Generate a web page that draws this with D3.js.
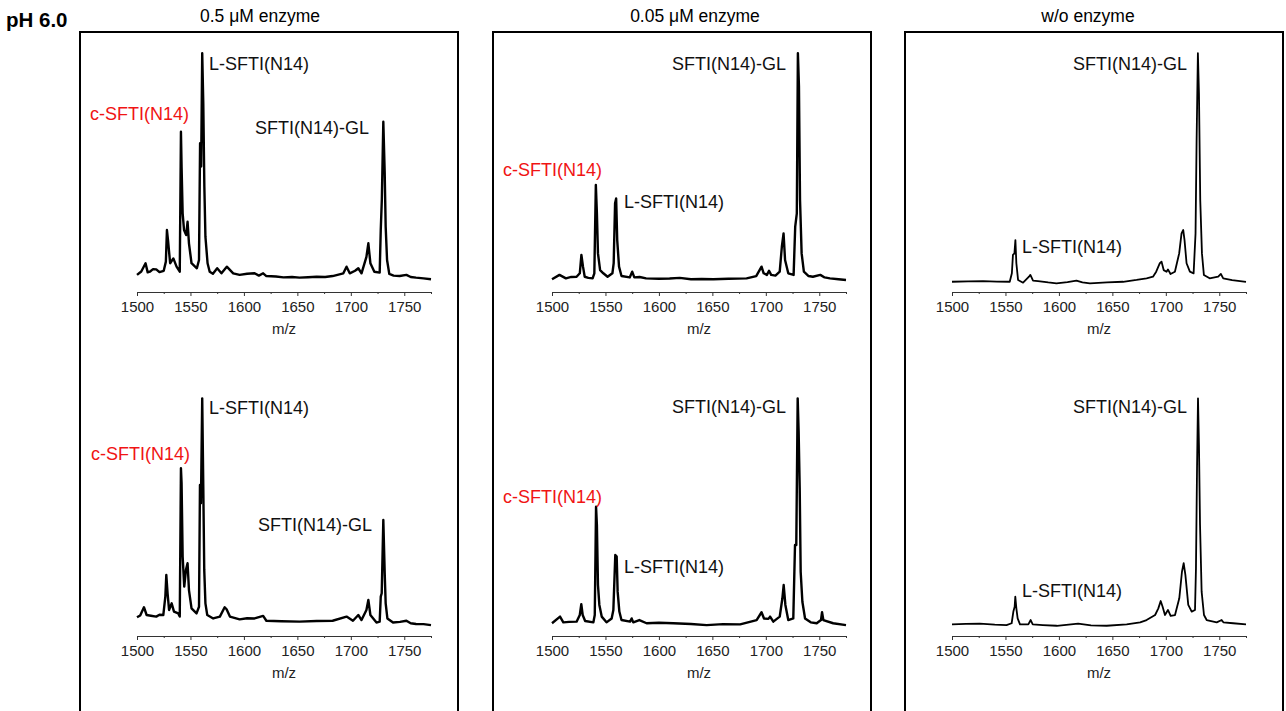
<!DOCTYPE html>
<html>
<head>
<meta charset="utf-8">
<script src="https://cdn.jsdelivr.net/npm/d3@7"></script>
<style>
body { margin: 0; background: #fff; }
svg { display: block; }
text { font-family: "Liberation Sans", Arial, Helvetica, sans-serif; }
</style>
</head>
<body>
<svg id="fig" width="1286" height="711"></svg>
<script>
// axis ticks (m/z)
const majorTicks = [1500, 1550, 1600, 1650, 1700, 1750];
const minorTicks = [1525, 1575, 1625, 1675, 1725, 1775];
const conditions = ["0.5 μM enzyme", "0.05 μM enzyme", "w/o enzyme"];

// spectra: [m/z, relative intensity]
// top row
const spec_a1 = [[1500,3.1],[1504,4.6],[1508,8.2],[1510,4.2],[1512,4.5],[1515,5.6],[1518,5.5],[1521,4.3],[1525,4.9],[1527,8.9],[1528,22.7],[1529,18.3],[1531,8.2],[1534,10.3],[1537,6.7],[1540,4.5],[1541.1,65.6],[1541.7,50.4],[1542.7,30],[1544,22.7],[1546,20.5],[1547.3,26.3],[1548.6,16.9],[1551,8.2],[1556,6],[1558,9.6],[1559,60.6],[1560,50.4],[1561,99.9],[1562,78],[1563,41.6],[1564,19.8],[1566,8.2],[1568,4.5],[1571,3.6],[1575,6],[1579,3.8],[1584,6.7],[1590,3.8],[1596,3.1],[1603,3.6],[1610,3.8],[1614,2.8],[1618,3.8],[1621,2.6],[1630,2.4],[1637,2],[1645,2.2],[1652,1.9],[1660,2.1],[1668,2.3],[1676,2.2],[1683,2.6],[1693,3.8],[1696,6.7],[1699,3.8],[1704,4.9],[1707,6],[1710,3.8],[1714.6,11],[1716.4,16.9],[1718.3,8.2],[1722,4.5],[1727,4.1],[1728,22.7],[1729,35.8],[1730.4,70],[1731.7,47.5],[1732.6,24.2],[1733.9,9.6],[1736,3.5],[1740,2.8],[1745.7,2.6],[1752,3.1],[1756,2.2],[1761,1.9],[1768,1.6],[1775,1.2]];
const spec_a2 = [[1500,1.2],[1507,3.1],[1513,1.6],[1518,2.2],[1523,2.3],[1526,3.8],[1527.5,11.8],[1529,6.7],[1530.6,2.3],[1534,1.8],[1538,1.6],[1539.6,3.8],[1541,42.4],[1542,30],[1543,12.5],[1545,5.2],[1548,3.8],[1552,2.3],[1556.5,3.8],[1557.7,8.2],[1559,34.4],[1560,36.5],[1561,18.3],[1562.7,6.7],[1565,2.6],[1572.7,2],[1575,4.5],[1577,2],[1582,2.2],[1588,1.6],[1600,1.4],[1610,1.5],[1619.5,1.8],[1630,1.2],[1640,1.3],[1651,1.2],[1665,1.4],[1682,1.6],[1691,2.6],[1696,6.7],[1698,3.8],[1701,3.1],[1703,4.9],[1705,3.1],[1709,2.8],[1713,4.5],[1715,15.4],[1716.6,21.2],[1718,9.6],[1721,3.8],[1726,3.1],[1727.5,24.2],[1729,30],[1730,99.9],[1731,85.3],[1732,35.8],[1733.5,12.5],[1735.6,4.5],[1740,2.6],[1744,2.3],[1751,3.1],[1755,2],[1760,1.6],[1768,1.2],[1775,0.9]];
const spec_a3 = [[1500,0.1],[1515,0.3],[1529,0.4],[1542,0.2],[1554,0.1],[1556,3.8],[1557,11.8],[1558.4,12.5],[1559.3,18.3],[1560.2,8.2],[1561.8,0.9],[1566.5,-0.3],[1572,2.3],[1573.3,3.1],[1575.8,0.6],[1580.5,0.4],[1590,-0.2],[1597.7,-0.6],[1608,-0.1],[1616.4,0.6],[1622,-0.2],[1629,-0.6],[1645,-0.2],[1660,0.1],[1672.6,0.9],[1682,1.6],[1688,2.3],[1691,4.5],[1694.4,8.2],[1696,8.9],[1698,5.2],[1700.7,4.5],[1702,5.5],[1704.4,3.5],[1708.5,4.5],[1712.5,12.5],[1714.7,21.2],[1716.3,22.7],[1717.5,18.3],[1719.4,8.2],[1722.5,4.5],[1726,3.8],[1727.8,21.2],[1728.8,62],[1730,99.9],[1731,82.4],[1732.2,35.8],[1733.8,12.5],[1735.6,3.1],[1741,1.6],[1749,2.3],[1751.5,3.5],[1753.7,1.6],[1762,0.8],[1775,0.1]];
// bottom row
const spec_b1 = [[1500,3.8],[1503,4.6],[1506.5,8.2],[1509,4.8],[1513,4.5],[1518,4.1],[1521,4.9],[1524.6,4.8],[1526.5,12.8],[1527.4,22.3],[1528.6,14.3],[1530,7],[1532.4,9.9],[1534.6,6.3],[1538.6,5.5],[1540,4.1],[1541.1,68.9],[1541.7,62.3],[1542.7,30.3],[1544.2,17.2],[1545.8,24.5],[1547.3,27.4],[1548.6,15.7],[1551,7.7],[1555.7,5.5],[1558,8.4],[1558.9,61.6],[1559.8,53.6],[1561,99.4],[1562,61],[1562.9,24.5],[1564,9.9],[1565.7,4.8],[1571.3,3.3],[1577.5,4.1],[1582,8.2],[1583.8,7.3],[1586.9,4.1],[1596,2.9],[1603,3.4],[1610,3.3],[1618,4.4],[1621,2.3],[1635,2.1],[1652,1.9],[1668,2.2],[1683,2.3],[1696,4.1],[1702,2.3],[1707,4.8],[1710,2.6],[1714.6,7],[1716.4,11.4],[1718.3,4.8],[1724,1.5],[1727,1.9],[1728,12.8],[1728.9,14.3],[1730.4,46.3],[1731.7,23],[1732.6,9.9],[1734.2,3.3],[1739.5,1.5],[1746,1.8],[1752,2.3],[1756,1.2],[1761,0.9],[1768,0.8],[1775,0.4]];
const spec_b2 = [[1500,1.2],[1507.5,4.1],[1510.6,1.6],[1516,1.8],[1523,1.9],[1526,4.8],[1527.4,9.5],[1528.7,4.8],[1531,2.2],[1538.7,1.6],[1540,4.8],[1541.2,52.1],[1542,44.1],[1543,17.9],[1544.3,9.2],[1546.5,4.1],[1551,1.6],[1555.8,3.3],[1557.4,7],[1559.2,31],[1560.5,30.3],[1561.4,15],[1563,6.3],[1565,2.6],[1573,1.9],[1574.5,3.3],[1576,1.6],[1581.7,2.6],[1588.5,1.2],[1600,1.4],[1613.5,1.2],[1630,0.9],[1644.7,0.4],[1660,0.8],[1676,0.7],[1691.4,2.6],[1696,6],[1698.3,3.3],[1702.4,3.1],[1704,4.1],[1707,1.9],[1713,4.1],[1715.5,12.1],[1716.7,17.9],[1718.3,9.2],[1721,2.6],[1725.7,3.3],[1727.3,35.4],[1728.5,35.4],[1729.8,99.4],[1730.7,84.9],[1731.7,60.1],[1732.6,23.7],[1734.2,10.6],[1736.7,3.3],[1742,1.6],[1747.6,1.2],[1751.6,2.6],[1752.6,6],[1753.8,2.6],[1763,1.2],[1775,0.4]];
const spec_b3 = [[1500,0.7],[1513,0.9],[1526,1],[1540,0.6],[1551,0.4],[1555.8,1.2],[1557.4,6.3],[1558.6,8.4],[1559.2,12.8],[1560.2,7.7],[1561.4,3.3],[1563.6,0.7],[1571.4,0.7],[1573.6,2.6],[1575.5,0.7],[1585,0.4],[1598,0.1],[1618,1],[1630,0.3],[1644.7,0.1],[1663.4,0.7],[1676,1.6],[1682,2.6],[1690,4.8],[1693,7.7],[1695.2,10.9],[1697,8.4],[1699.2,4.8],[1702,7],[1704.5,4.4],[1708.6,4.8],[1712.6,12.1],[1715.1,23.7],[1716.7,27.4],[1718.3,22.3],[1721,9.2],[1724.2,6.3],[1727.3,7],[1728.2,25.2],[1729.2,68.9],[1730.1,99.4],[1731,79],[1732,44.1],[1733.5,15],[1735.7,4.8],[1738.2,2.6],[1747.6,1.6],[1752.2,2.6],[1753.8,1.6],[1763,1.2],[1775,0.7]];

// peak annotations: [label, m/z of text start, intensity of text baseline]
const notes_a1 = [["L-SFTI(N14)", 1567.3, 92.6], ["c-SFTI(N14)", 1456, 70.7], ["SFTI(N14)-GL", 1610.4, 64.6]];
const notes_a2 = [["SFTI(N14)-GL", 1612.2, 92.6], ["c-SFTI(N14)", 1454.2, 46.3], ["L-SFTI(N14)", 1567.3, 32.3]];
const notes_a3 = [["SFTI(N14)-GL", 1613.2, 92.6], ["L-SFTI(N14)", 1565.5, 12.7]];
const notes_b1 = [["L-SFTI(N14)", 1567.3, 92.6], ["c-SFTI(N14)", 1457, 72.5], ["SFTI(N14)-GL", 1613.2, 41.5]];
const notes_b2 = [["SFTI(N14)-GL", 1612.2, 93], ["c-SFTI(N14)", 1454.2, 53.7], ["L-SFTI(N14)", 1567.3, 23.1]];
const notes_b3 = [["SFTI(N14)-GL", 1613.2, 93], ["L-SFTI(N14)", 1565.5, 12.7]];

const spectra = [[spec_a1, spec_a2, spec_a3], [spec_b1, spec_b2, spec_b3]];
const notes = [[notes_a1, notes_a2, notes_a3], [notes_b1, notes_b2, notes_b3]];

// layout
const colX = [137, 552, 952];
const plotW = 294;
const rowAxis = [292, 636];
const boxX = [80, 493, 905];
const boxW = 378;
const titleX = [260, 695, 1088];

const svg = d3.select("#fig");

svg.append("text")
	.attr("x", 6).attr("y", 27)
	.attr("font-size", 20.5).attr("font-weight", "bold")
	.text("pH 6.0");

conditions.forEach((c, i) => {
	svg.append("text")
		.attr("x", titleX[i]).attr("y", 22)
		.attr("text-anchor", "middle")
		.attr("font-size", 17.5)
		.text(c);
	svg.append("rect")
		.attr("x", boxX[i]).attr("y", 32)
		.attr("width", boxW).attr("height", 720)
		.attr("fill", "none").attr("stroke", "#000").attr("stroke-width", 2);
});

for (let r = 0; r < 2; r++) {
	for (let c = 0; c < 3; c++) {
		const x = d3.scaleLinear().domain([1500, 1775]).range([colX[c], colX[c] + plotW]);
		const y = d3.scaleLinear().domain([0, 100]).range([rowAxis[r] - 10, rowAxis[r] - 239]);
		const g = svg.append("g");

		const ax = g.append("g")
			.attr("transform", `translate(0,${rowAxis[r]})`)
			.call(d3.axisBottom(x).tickValues(majorTicks).tickSize(4).tickSizeOuter(0)
				.tickPadding(5).tickFormat(d3.format("d")));
		ax.selectAll("text").attr("font-size", 15).attr("fill", "#222")
			.attr("font-family", "Liberation Sans, Arial, sans-serif");
		ax.selectAll("path, line").attr("stroke", "#333");

		const mn = g.append("g")
			.attr("transform", `translate(0,${rowAxis[r]})`)
			.call(d3.axisBottom(x).tickValues(minorTicks).tickSize(2).tickFormat(""));
		mn.select(".domain").remove();
		mn.selectAll("line").attr("stroke", "#333");

		g.append("text")
			.attr("x", (x.range()[0] + x.range()[1]) / 2)
			.attr("y", rowAxis[r] + 42)
			.attr("text-anchor", "middle")
			.attr("font-size", 15).attr("fill", "#222")
			.text("m/z");

		const line = d3.line().x(d => x(d[0])).y(d => y(d[1]));
		g.append("path")
			.datum(spectra[r][c])
			.attr("d", line)
			.attr("fill", "none")
			.attr("stroke", "#000")
			.attr("stroke-width", c === 2 ? 1.8 : 2.4)
			.attr("stroke-linejoin", "round");

		g.selectAll(".note")
			.data(notes[r][c]).enter()
			.append("text")
			.attr("x", d => x(d[1]))
			.attr("y", d => y(d[2]))
			.attr("font-size", 18)
			.attr("fill", d => d[0].startsWith("c-") ? "#f01414" : "#111")
			.text(d => d[0]);
	}
}
</script>
</body>
</html>
